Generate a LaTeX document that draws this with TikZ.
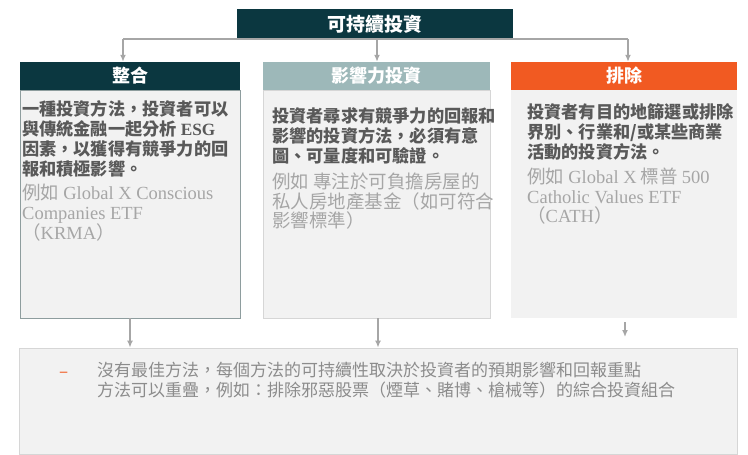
\documentclass[tikz,border=0pt]{standalone}
\usepackage{fontspec}
\setmainfont{Noto Sans CJK TC}
\newfontfamily\lsr{Liberation Serif}
\usetikzlibrary{arrows.meta}
\definecolor{cTeal}{HTML}{0B3740}
\definecolor{cSage}{HTML}{9DB8B9}
\definecolor{cOrange}{HTML}{F15A22}
\definecolor{cFill}{HTML}{F2F2F2}
\definecolor{cBold}{HTML}{595959}
\definecolor{cGray}{HTML}{A6A6A6}
\definecolor{cText}{HTML}{8C8C8C}
\definecolor{cLine}{HTML}{A6A6A6}
\definecolor{cEdge}{HTML}{8E9D9E}
\definecolor{cEdgeL}{HTML}{D6D6D6}
\tikzset{
  hdr/.style={minimum height=28pt, inner sep=0pt, text=white, font=\bfseries\fontsize{18}{20}\selectfont},
  body/.style={fill=cFill, minimum height=228pt, inner sep=0pt},
  conn/.style={draw=cLine, line width=1.8pt},
  arr/.style={draw=cLine, line width=1.8pt, -{Latex[length=7pt,width=6pt]}},
  boldtxt/.style={anchor=north west, align=left, inner sep=0pt, text=cBold,
     font=\bfseries\fontsize{17.2}{20}\selectfont},
  graytxt/.style={anchor=north west, align=left, inner sep=0pt, text=cGray,
     font=\fontsize{18.5}{19.5}\selectfont},
}
\begin{document}
\begin{tikzpicture}[x=1pt,y=-1pt]
\useasboundingbox (0,0) rectangle (748,455);
% bodies
\node[body, minimum width=220pt, draw=cEdge, line width=1pt] (b1) at (130,204) {};
\node[body, minimum width=227pt, draw=cEdgeL, line width=0.8pt] (b2) at (376.5,204) {};
\node[body, minimum width=226pt] (b3) at (624,204) {};
% headers
\node[hdr, fill=cTeal, minimum width=220pt] (h1) at (130,76) {整合};
\node[hdr, fill=cSage, minimum width=227pt] (h2) at (376.5,76) {影響力投資};
\node[hdr, fill=cOrange, minimum width=226pt] (h3) at (624,76) {排除};
% top
\node[fill=cTeal, minimum width=276pt, minimum height=30pt, inner sep=0pt, text=white,
  font=\bfseries\fontsize{19}{21}\selectfont] (top) at (375,24) {可持續投資};
% bottom box
\node[fill=cFill, draw=cEdgeL, line width=0.8pt, minimum width=718pt, minimum height=106pt, inner sep=0pt] (bot) at (378,401) {};
% top connectors
\coordinate (j1) at (123,39);
\coordinate (j2) at (377,39);
\coordinate (j3) at (628,39);
\draw[conn] (j1) -- (j3);
\draw[arr] (j1) -- (j1 |- h1.north);
\draw[arr] (j2) -- (j2 |- h2.north);
\draw[arr] (j3) -- (j3 |- h3.north);
% bottom connectors
\coordinate (k1) at (130,318);
\coordinate (k2) at (378,318);
\coordinate (k3) at (625,322);
\coordinate (m3) at (625,337);
\draw[arr] (k1) -- (k1 |- bot.north);
\draw[arr] (k2) -- (k2 |- bot.north);
\draw[arr] (k3) -- (m3);
% texts
\node[boldtxt] (t1) at (22,100) {一種投資方法，投資者可以\\與傳統金融一起分析 {\lsr ESG}\\因素，以獲得有競爭力的回\\報和積極影響。};
\node[graytxt] (g1) at (22,184) {例如 {\lsr Global X Conscious}\\{\lsr Companies ETF}\\（{\lsr KRMA}）};
\node[boldtxt] (t2) at (272,107) {投資者尋求有競爭力的回報和\\影響的投資方法，必須有意\\圖、可量度和可驗證。};
\node[graytxt] (g2) at (272,173) {例如 專注於可負擔房屋的\\私人房地產基金（如可符合\\影響標準）};
\node[boldtxt] (t3) at (527,103) {投資者有目的地篩選或排除\\界別、行業和/或某些商業\\活動的投資方法。};
\node[graytxt] (g3) at (527,168) {例如 {\lsr Global X} 標普 {\lsr 500}\\{\lsr Catholic Values ETF}\\（{\lsr CATH}）};
% bottom text
\node[anchor=base west, inner sep=0pt, text=cOrange, font=\fontsize{17}{20}\selectfont] (dash) at (59,377) {–};
\node[anchor=north west, align=left, inner sep=0pt, text=cText, font=\fontsize{17}{19.5}\selectfont] (bt) at (97,362) {沒有最佳方法，每個方法的可持續性取決於投資者的預期影響和回報重點\\方法可以重疊，例如：排除邪惡股票（煙草、賭博、槍械等）的綜合投資組合};
\end{tikzpicture}
\end{document}
